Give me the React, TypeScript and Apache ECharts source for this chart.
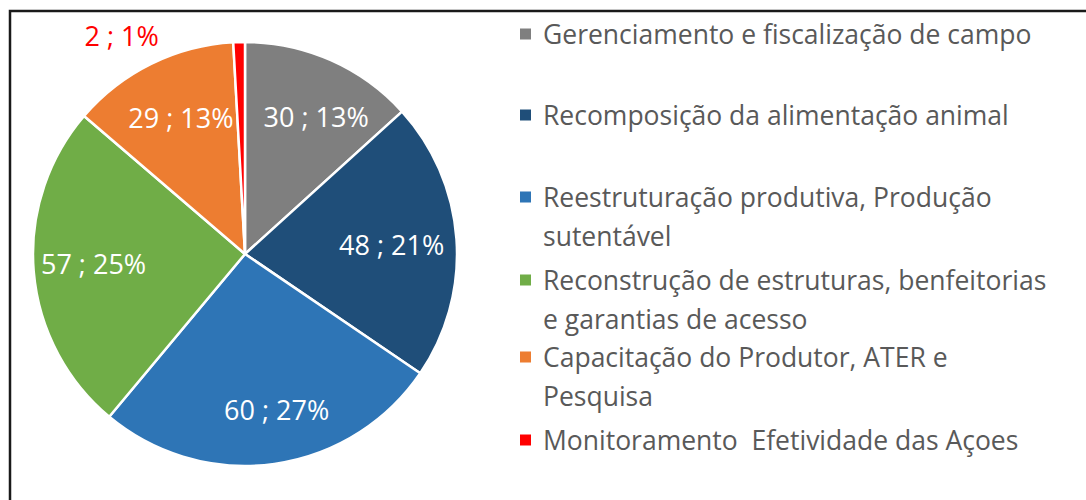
import React, { useEffect, useRef } from "react";
import * as echarts from "echarts";

const categories = [
  "Gerenciamento e fiscalização de campo",
  "Recomposição da alimentação animal",
  "Reestruturação produtiva, Produção sutentável",
  "Reconstrução de estruturas, benfeitorias e garantias de acesso",
  "Capacitação do Produtor, ATER e Pesquisa",
  "Monitoramento  Efetividade das Açoes",
];
const legendLabels = [
  "Gerenciamento e fiscalização de campo",
  "Recomposição da alimentação animal",
  "Reestruturação produtiva, Produção\nsutentável",
  "Reconstrução de estruturas, benfeitorias\ne garantias de acesso",
  "Capacitação do Produtor, ATER e\nPesquisa",
  "Monitoramento  Efetividade das Açoes",
];
const values = [30, 48, 60, 57, 29, 2];
const colors = ["#7F7F7F", "#1F4E79", "#2E75B6", "#70AD47", "#ED7D31", "#FF0000"];
const legendLineCenters = [34, 115, 197, 280, 357, 440];
const labelNudge = [
  [8, 5],
  [-9, 1],
  [10, 1],
  [4, -3],
  [5, 3],
  [-119, -63],
];

const FONT = "Open Sans";
const LH = 39;
const ICON = 11;

export default function App() {
  const ref = useRef<HTMLDivElement>(null);
  useEffect(() => {
    if (!ref.current) return;
    const chart = echarts.init(ref.current, null, { renderer: "svg" });
    const data = categories.map((name, i) => ({
      name,
      value: values[i],
      itemStyle: { color: colors[i] },
    }));
    const labelData = categories.map((name, i) => ({
      name,
      value: values[i],
      label: {
        color: i === 5 ? "#FF0000" : "#FFFFFF",
      },
    }));
    const legends = categories.map((name, i) => {
      const lines = legendLabels[i].split("\n").length;
      const h = ICON + (lines - 1) * LH;
      // square at the top of a taller icon box so it lines up with the first text line
      const icon =
        lines > 1
          ? `path://M0,0L${ICON},0L${ICON},${ICON}L0,${ICON}Z M0,${h}L${ICON},${h}Z`
          : "rect";
      return {
        data: [name],
        orient: "vertical",
        left: 520,
        top: legendLineCenters[i] - LH / 2,
        padding: 0,
        itemWidth: ICON,
        itemHeight: h,
        icon,
        selectedMode: false,
        itemStyle: { borderWidth: 0 },
        formatter: () => legendLabels[i],
        textStyle: {
          fontFamily: FONT,
          fontSize: 26.5,
          color: "#595959",
          lineHeight: LH,
          padding: [0, 0, 0, 7],
        },
      };
    });
    chart.setOption({
      animation: false,
      backgroundColor: "#FFFFFF",
      legend: legends,
      graphic: [
        {
          type: "rect",
          shape: { x: 10, y: 11, width: 1200, height: 600 },
          style: { fill: "none", stroke: "#1A1A1A", lineWidth: 2.5 },
          silent: true,
        },
      ],
      series: [
        {
          type: "pie",
          center: [245, 254],
          radius: [0, 212],
          startAngle: 90,
          clockwise: true,
          silent: true,
          percentPrecision: 0,
          data,
          label: { show: false },
          labelLine: { show: false },
          itemStyle: { borderColor: "#FFFFFF", borderWidth: 2.5 },
        },
        {
          type: "pie",
          center: [245, 254],
          radius: [0, 306],
          startAngle: 90,
          clockwise: true,
          silent: true,
          percentPrecision: 0,
          avoidLabelOverlap: false,
          data: labelData,
          itemStyle: { color: "rgba(0,0,0,0)", borderWidth: 0 },
          label: {
            show: true,
            position: "inside",
            fontFamily: FONT,
            fontSize: 27,
            formatter: (p: any) => `${p.value} ; ${p.percent}%`,
          },
          labelLine: { show: false },
          labelLayout: (p: any) => ({
            dx: labelNudge[p.dataIndex][0],
            dy: labelNudge[p.dataIndex][1],
          }),
        },
      ],
    });
    return () => chart.dispose();
  }, []);
  return (
    <div
      ref={ref}
      style={{ position: "absolute", left: 0, top: 0, width: 1086, height: 500 }}
    />
  );
}
